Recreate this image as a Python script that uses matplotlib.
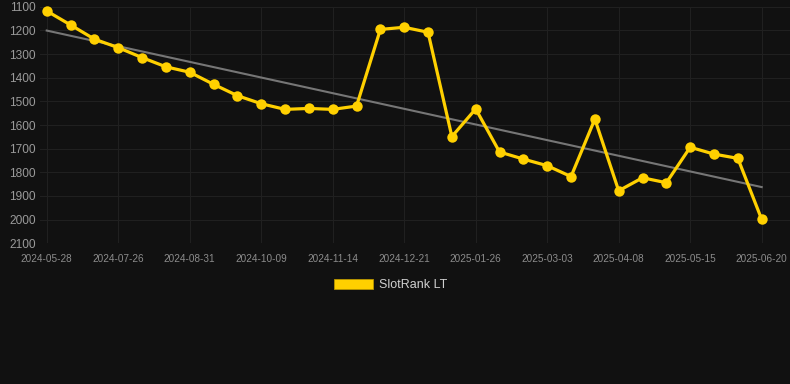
import matplotlib

matplotlib.use("Agg")
import matplotlib.pyplot as plt
import numpy as np
from matplotlib.patches import Patch

# weekly-ish rank samples, every third one gets a date label
tick_labels = [
    "2024-05-28", "2024-07-26", "2024-08-31", "2024-10-09", "2024-11-14", "2024-12-21",
    "2025-01-26", "2025-03-03", "2025-04-08", "2025-05-15", "2025-06-20",
]
rank_values = [
    1118, 1177, 1237, 1273, 1315, 1354, 1377, 1428, 1476, 1510,
    1534, 1530, 1534, 1520, 1196, 1187, 1208, 1649, 1532, 1714,
    1744, 1772, 1818, 1575, 1878, 1823, 1844, 1694, 1723, 1741,
    1999,
]
series_name = "SlotRank LT"

bg = "#111111"
gold = "#ffd000"

plt.rcParams["font.family"] = ["Liberation Sans", "DejaVu Sans"]

fig = plt.figure(figsize=(7.9, 3.84), dpi=100)
fig.patch.set_facecolor(bg)
ax = fig.add_axes([40 / 790, 1 - 243.3 / 384, 750 / 790, (243.3 - 6.7) / 384])
ax.set_facecolor(bg)

x = np.arange(len(rank_values))
y = np.array(rank_values, dtype=float)

# linear trend through the ranks
slope, intercept = np.polyfit(x, y, 1)
ax.plot(x, slope * x + intercept, color="#767676", linewidth=1.5, zorder=2)

ax.plot(x, y, color=gold, linewidth=2.3, marker="o", markersize=7.5,
        markeredgewidth=0, zorder=3, clip_on=False)

step = 23.83  # px per point
ax.set_xlim(-6.7 / step, 30 + 28.3 / step)
ax.set_ylim(2100, 1100)
ax.set_yticks(np.arange(1100, 2101, 100))
ax.set_xticks(x[::3])
ax.set_xticklabels(tick_labels)

ax.tick_params(axis="y", colors="#9a9a9a", labelsize=8.6, length=0, pad=3)
ax.tick_params(axis="x", colors="#8c8c8c", labelsize=7.2, length=0, pad=8)
ax.grid(True, color="#202020", linewidth=0.8)
ax.set_axisbelow(True)
for spine in ax.spines.values():
    spine.set_visible(False)

handle = Patch(facecolor=gold, edgecolor="#b89600", linewidth=0.6)
leg = fig.legend([handle], [series_name], loc="center", bbox_to_anchor=(391 / 790, 1 - 285 / 384),
                 frameon=False, fontsize=9, handlelength=3.1, handleheight=0.9, handletextpad=0.5,
                 labelcolor="#d0d0d0")

fig.savefig("out.png", dpi=100, facecolor=bg)
plt.close(fig)
